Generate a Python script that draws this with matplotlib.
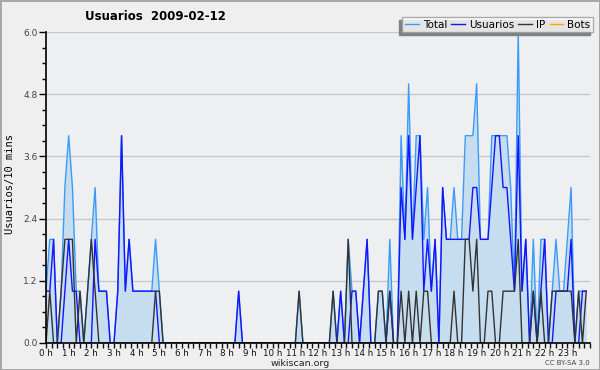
import numpy as np
import matplotlib
matplotlib.use("Agg")
import matplotlib.pyplot as plt
from matplotlib.ticker import MultipleLocator, FixedLocator
from matplotlib.patches import Rectangle

# values every 10 minutes, 144 slots
total = [1, 2, 2, 0, 1, 3, 4, 3, 1, 1,
         0, 1, 2, 3, 1, 1, 1, 0, 0, 1,
         4, 1, 2, 1, 1, 1, 1, 1, 1, 2,
         1, 0, 0, 0, 0, 0, 0, 0, 0, 0,
         0, 0, 0, 0, 0, 0, 0, 0, 0, 0,
         0, 1, 0, 0, 0, 0, 0, 0, 0, 0,
         0, 0, 0, 0, 0, 0, 0, 1, 0, 0,
         0, 0, 0, 0, 0, 0, 1, 0, 1, 0,
         2, 1, 1, 0, 1, 2, 0, 0, 1, 1,
         0, 2, 0, 0, 4, 2, 5, 2, 4, 4,
         2, 3, 1, 2, 0, 3, 2, 2, 3, 2,
         2, 4, 4, 4, 5, 2, 2, 2, 4, 4,
         4, 4, 4, 3, 1, 6, 1, 2, 0, 2,
         0, 2, 2, 0, 1, 2, 1, 1, 2, 3,
         0, 1, 1, 1]
usuarios = [1, 1, 2, 0, 0, 1, 2, 1, 1, 0,
            0, 0, 0, 2, 1, 1, 1, 0, 0, 1,
            4, 1, 2, 1, 1, 1, 1, 1, 1, 1,
            0, 0, 0, 0, 0, 0, 0, 0, 0, 0,
            0, 0, 0, 0, 0, 0, 0, 0, 0, 0,
            0, 1, 0, 0, 0, 0, 0, 0, 0, 0,
            0, 0, 0, 0, 0, 0, 0, 0, 0, 0,
            0, 0, 0, 0, 0, 0, 0, 0, 1, 0,
            0, 1, 1, 0, 1, 2, 0, 0, 0, 0,
            0, 1, 0, 0, 3, 2, 4, 2, 3, 4,
            1, 2, 1, 2, 0, 3, 2, 2, 2, 2,
            2, 2, 2, 3, 3, 2, 2, 2, 3, 4,
            4, 3, 3, 2, 1, 4, 1, 2, 0, 1,
            0, 1, 2, 0, 0, 1, 1, 1, 1, 2,
            0, 0, 1, 1]
ip = [0, 1, 0, 0, 1, 2, 2, 2, 0, 1,
      0, 1, 2, 1, 0, 0, 0, 0, 0, 0,
      0, 0, 0, 0, 0, 0, 0, 0, 0, 1,
      1, 0, 0, 0, 0, 0, 0, 0, 0, 0,
      0, 0, 0, 0, 0, 0, 0, 0, 0, 0,
      0, 0, 0, 0, 0, 0, 0, 0, 0, 0,
      0, 0, 0, 0, 0, 0, 0, 1, 0, 0,
      0, 0, 0, 0, 0, 0, 1, 0, 0, 0,
      2, 0, 0, 0, 0, 0, 0, 0, 1, 1,
      0, 1, 0, 0, 1, 0, 1, 0, 1, 0,
      1, 1, 0, 0, 0, 0, 0, 0, 1, 0,
      0, 2, 2, 1, 2, 0, 0, 1, 1, 0,
      0, 1, 1, 1, 1, 2, 0, 0, 0, 1,
      0, 1, 0, 0, 1, 1, 1, 1, 1, 1,
      0, 1, 0, 1]
bots = [0] * 144

hours = np.arange(len(total)) / 6.0
hour_labels = [f"{h} h" for h in range(24)]
y_ticks = [0.0, 1.2, 2.4, 3.6, 4.8, 6.0]

fig = plt.figure(figsize=(6, 3.7), dpi=100)
fig.patch.set_facecolor('#efefef')
fig.patch.set_edgecolor('#a8a8a8')
fig.patch.set_linewidth(2)

ax = fig.add_axes([46 / 600, 1 - 343 / 370, 544 / 600, 311 / 370])
ax.set_facecolor('#eeeff1')

# series
ax.plot(hours, bots, color='#ffa500', lw=1, zorder=1)
ax.fill_between(hours, total, 0, color='#c6ddf0', lw=0, zorder=2)
ax.plot(hours, total, color='#3a9cf8', lw=1, zorder=3, label='Total')
ax.plot(hours, usuarios, color='#1414ff', lw=1, zorder=4, label='Usuarios')
ax.plot(hours, ip, color='#333333', lw=1, zorder=5, label='IP')

# axes
ax.set_xlim(0, 24)
ax.set_ylim(0, 6.0)
ax.xaxis.set_major_locator(FixedLocator(range(24)))
ax.set_xticklabels(hour_labels)
ax.xaxis.set_minor_locator(MultipleLocator(0.25))
ax.yaxis.set_major_locator(FixedLocator(y_ticks))
ax.set_yticklabels([f"{v:.1f}" for v in y_ticks])
ax.yaxis.set_minor_locator(MultipleLocator(0.3))
ax.tick_params(axis='x', which='both', length=3.5, width=1, labelsize=6.3, pad=0.5, colors='#111')
ax.tick_params(axis='y', which='major', length=5, width=1, labelsize=6.5, pad=1, labelcolor='#444')
ax.tick_params(axis='y', which='minor', length=3, width=1)

for s in ['top', 'right']:
    ax.spines[s].set_visible(False)
for s in ['left', 'bottom']:
    ax.spines[s].set_linewidth(1.2)
    ax.spines[s].set_zorder(6)

ax.grid(axis='y', color='#c8c8c8', lw=1, zorder=0)
ax.set_axisbelow(True)

# texts
fig.text(85 / 600, 1 - 17 / 370, "Usuarios  2009-02-12", fontsize=8.5,
         fontweight='bold', ha='left', va='center')
fig.text(10 / 600, 1 - 184 / 370, "Usuarios/10 mins", rotation=90,
         family='DejaVu Sans Mono', fontsize=7.5, ha='center', va='center')
fig.text(300 / 600, 1 - 363.5 / 370, "wikiscan.org", fontsize=6.8,
         ha='center', va='center', color='#222')
fig.text(590 / 600, 1 - 363 / 370, "CC BY-SA 3.0", fontsize=5,
         ha='right', va='center', color='#444')

# legend with a shadow offset to the lower left
handles = [plt.Line2D([], [], color=c, lw=1) for c in ['#3a9cf8', '#1414ff', '#333333', '#ffa500']]
leg = fig.legend(handles, ['Total', 'Usuarios', 'IP', 'Bots'], ncol=4,
                 loc='upper right', bbox_to_anchor=(593 / 600, 1 - 17 / 370),
                 fontsize=7.5, frameon=True, fancybox=False, borderpad=0.25,
                 handlelength=1.3, handletextpad=0.4, columnspacing=0.4,
                 borderaxespad=0)
leg.get_frame().set_edgecolor('#999')
leg.get_frame().set_linewidth(1)
leg.set_zorder(10)

fig.canvas.draw()
bb = leg.get_window_extent().transformed(fig.transFigure.inverted())
fig.patches.append(Rectangle((bb.x0 - 3 / 600, bb.y0 - 3 / 370), bb.width, bb.height,
                             transform=fig.transFigure, color='#808080', zorder=9))

fig.savefig('out.png', dpi=100, facecolor=fig.get_facecolor(),
            edgecolor=fig.get_edgecolor())
